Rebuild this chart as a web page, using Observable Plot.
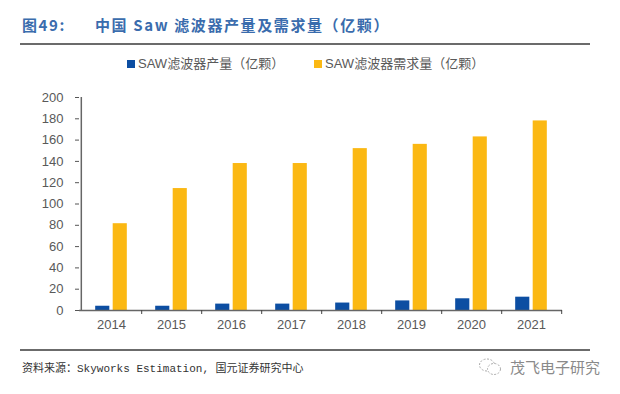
<!DOCTYPE html>
<html>
<head>
<meta charset="utf-8">
<script src="https://cdn.jsdelivr.net/npm/d3@7"></script>
<script src="https://cdn.jsdelivr.net/npm/@observablehq/plot@0.6"></script>
<style>
  html, body { margin: 0; padding: 0; background: #fff; }
  #wrap { position: relative; width: 620px; height: 394px; overflow: hidden; font-family: "Liberation Sans", "Noto Sans CJK SC", sans-serif; }
  #chart { position: absolute; left: 0; top: 0; }
  .title { position: absolute; left: 22px; top: 14px; font-family: "Noto Sans CJK SC", sans-serif; font-weight: 700; font-size: 15px; color: #3a6cad; letter-spacing: 1.6px; white-space: nowrap; line-height: 22px; }
  .title .t2 { position: absolute; left: 73px; top: 0; }
  .rule { position: absolute; left: 20px; width: 570px; background: #6b6b6b; }
  .legend { position: absolute; top: 56px; font-size: 13px; color: #595959; white-space: nowrap; line-height: 16px; font-family: "Liberation Sans", "Noto Sans CJK SC", sans-serif; }
  .legend i { display: inline-block; width: 8px; height: 8px; margin-right: 3px; vertical-align: 0px; }
  .source { position: absolute; left: 22px; top: 361px; font-size: 11px; color: #333; font-family: "Liberation Mono", "Noto Sans CJK SC", monospace; white-space: nowrap; line-height: 16px; }
  .wm { position: absolute; left: 478px; top: 357px; font-size: 15px; color: #8a8a8a; font-family: "Noto Sans CJK SC", sans-serif; white-space: nowrap; line-height: 20px; }
  .wm svg { vertical-align: -4px; margin-right: 8px; }
</style>
</head>
<body>
<div id="wrap">
  <div id="chart"></div>
  <div class="title">图49:<span class="t2">中国 Saw 滤波器产量及需求量（亿颗）</span></div>
  <div class="rule" style="top:43px;height:2px;"></div>
  <div class="legend" style="left:127px;"><i style="background:#0c4ea2"></i><span id="lg1"></span></div>
  <div class="legend" style="left:314px;"><i style="background:#fbb813"></i><span id="lg2"></span></div>
  <div class="rule" style="top:349px;height:2px;"></div>
  <div class="source" id="src"></div>
  <div class="wm"><svg width="24" height="20" viewBox="0 0 24 20"><ellipse cx="9" cy="8" rx="7.5" ry="6" fill="none" stroke="#aaa" stroke-dasharray="2,1.5"/><ellipse cx="16" cy="12" rx="6.5" ry="5.5" fill="#fff" stroke="#aaa" stroke-dasharray="2,1.5"/></svg>茂飞电子研究</div>
</div>
<script>
const years = ["2014", "2015", "2016", "2017", "2018", "2019", "2020", "2021"];
const production = [4, 4, 6, 6, 7, 9, 11, 12.5];
const demand = [81.5, 114.5, 138, 138, 152, 156, 163, 178];
const seriesNames = ["SAW滤波器产量（亿颗）", "SAW滤波器需求量（亿颗）"];
const seriesColors = ["#0c4ea2", "#fbb813"];
const yTicks = [0, 20, 40, 60, 80, 100, 120, 140, 160, 180, 200];
const sourceText = "资料来源：Skyworks Estimation, 国元证券研究中心";

document.getElementById("lg1").textContent = seriesNames[0];
document.getElementById("lg2").textContent = seriesNames[1];
document.getElementById("src").textContent = sourceText;

const rows = years.map((year, i) => ({year, production: production[i], demand: demand[i]}));

const W = 620, H = 394, mL = 79, mR = 58, mT = 97, mB = 84;
const half = (W - mL - mR) / years.length / 2;

const chart = Plot.plot({
  width: W,
  height: H,
  marginLeft: mL,
  marginRight: mR,
  marginTop: mT,
  marginBottom: mB,
  style: {fontFamily: "Liberation Sans, Arial, sans-serif", fontSize: "13px", color: "#595959", background: "transparent"},
  x: {type: "band", domain: years, padding: 0, label: null},
  y: {domain: [0, 200], label: null},
  marks: [
    Plot.barY(rows, {x: "year", y: "production", fill: seriesColors[0], insetLeft: half - 16, insetRight: half + 1.5}),
    Plot.barY(rows, {x: "year", y: "demand", fill: seriesColors[1], insetLeft: half + 1.5, insetRight: half - 16}),
    Plot.ruleY([0], {stroke: "#666", strokeWidth: 1.5}),
    Plot.ruleX([years[0]], {dx: -half, y1: 0, y2: 200, stroke: "#666", strokeWidth: 1.5}),
    Plot.axisY({ticks: yTicks, tickSize: 4, tickPadding: 12, stroke: "#555", fill: "#595959", fontSize: 13, label: null}),
    Plot.axisX({tickSize: 0, tickPadding: 9, fill: "#595959", fontSize: 13, label: null}),
    Plot.axisX({tickSize: 4, tickFormat: () => "", dx: half, stroke: "#444", label: null})
  ]
});
document.getElementById("chart").appendChild(chart);
</script>
</body>
</html>
